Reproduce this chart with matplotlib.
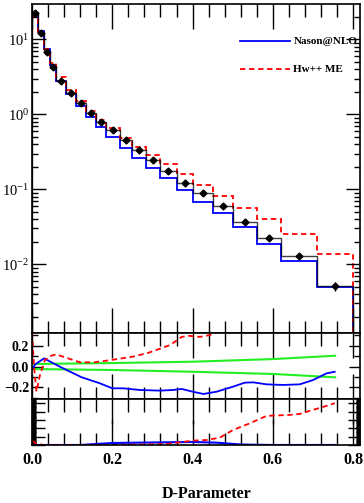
import numpy as np
import matplotlib
matplotlib.use('Agg')
import matplotlib.pyplot as plt
from matplotlib.ticker import MultipleLocator, LogLocator, NullFormatter, FixedLocator
from matplotlib.lines import Line2D

plt.rcParams['font.family'] = ['Liberation Serif', 'DejaVu Serif']
plt.rcParams['mathtext.fontset'] = 'custom'
plt.rcParams['mathtext.rm'] = 'Liberation Serif'
plt.rcParams['mathtext.it'] = 'Liberation Serif:italic'

# ---- data ----
edges = [0.0, 0.015, 0.03, 0.045, 0.06, 0.085, 0.11, 0.135, 0.16, 0.185, 0.22,
         0.25, 0.285, 0.32, 0.36, 0.40, 0.45, 0.50, 0.56, 0.62, 0.71, 0.80]
data = [22.6, 12.2, 6.8, 4.3, 2.75, 1.94, 1.43, 1.05, 0.80, 0.62, 0.45, 0.334,
        0.246, 0.177, 0.122, 0.090, 0.060, 0.037, 0.0222, 0.0129, 0.00514]
data_err = [2.0, 1.0, 0.5, 0.3, 0.2, 0.13, 0.09, 0.07, 0.05, 0.04, 0.03, 0.022,
            0.016, 0.012, 0.009, 0.007, 0.005, 0.003, 0.002, 0.0013, 0.0007]
nason = [22.1, 13.05, 7.48, 4.56, 2.78, 1.86, 1.31, 0.924, 0.68, 0.502, 0.36,
         0.264, 0.193, 0.140, 0.0964, 0.068, 0.048, 0.0318, 0.01865, 0.0109, 0.00493]
hwme = [20.3, 11.6, 7.34, 4.77, 3.11, 2.13, 1.51, 1.10, 0.84, 0.657, 0.486,
        0.371, 0.285, 0.214, 0.159, 0.114, 0.0814, 0.0569, 0.0402, 0.0254, 0.0137]
labels = ['Nason@NLO', 'Hw++ ME']

# (MC - data)/data ratio curves
rx_nason = [0.0, 0.008, 0.03, 0.061, 0.086, 0.124, 0.169, 0.2, 0.227, 0.269, 0.319,
            0.352, 0.373, 0.4, 0.427, 0.46, 0.501, 0.53, 0.551, 0.584, 0.626, 0.667,
            0.7, 0.734, 0.754]
r_nason = [-0.03, 0.02, 0.078, 0.015, -0.033, -0.103, -0.16, -0.208, -0.208, -0.224,
           -0.230, -0.224, -0.214, -0.240, -0.262, -0.240, -0.192, -0.154, -0.151,
           -0.170, -0.176, -0.170, -0.129, -0.065, -0.05]
rx_hw = [0.0, 0.005, 0.011, 0.02, 0.032, 0.045, 0.06, 0.09, 0.119, 0.155, 0.197,
         0.252, 0.289, 0.344, 0.373, 0.393, 0.418, 0.443, 0.456, 0.47]
r_hw = [0.33, 0.0, -0.24, -0.08, 0.06, 0.10, 0.116, 0.078, 0.04, 0.04, 0.062,
        0.095, 0.13, 0.205, 0.283, 0.293, 0.283, 0.30, 0.32, 0.36]
band_x = [0.0, 0.2, 0.4, 0.6, 0.755]
band_up = [0.024, 0.033, 0.046, 0.071, 0.103]
band_lo = [-0.024, -0.033, -0.05, -0.071, -0.103]

# bottom panel curves
cx_nason = [0.0, 0.12, 0.2, 0.3, 0.4, 0.46, 0.52, 0.6, 0.755]
c_nason = [0.0, 0.0, 0.24, 0.3, 0.36, 0.28, 0.06, 0.0, 0.0]
cx_hw = [0.0, 0.012, 0.03, 0.2, 0.335, 0.4, 0.435, 0.468, 0.501, 0.543, 0.584,
         0.642, 0.667, 0.7, 0.734, 0.754]
c_hw = [0.52, 0.12, 0.0, 0.0, 0.12, 0.52, 0.6, 0.88, 1.8, 2.6, 3.48, 3.6, 3.72,
        4.2, 4.68, 5.0]

BLUE = '#0000ff'
RED = '#ff0000'
GREEN = '#22ee22'
DASH = (0, (3, 2))

fig = plt.figure(figsize=(3.64, 5.03), dpi=100)
W, H = 364.0, 503.0
def box(x0, y0, x1, y1):
    return [x0 / W, 1 - y1 / H, (x1 - x0) / W, (y1 - y0) / H]

ax = fig.add_axes(box(32, 4, 360, 333))
axr = fig.add_axes(box(32, 333, 360, 399), sharex=ax)
axc = fig.add_axes(box(32, 399, 360, 445), sharex=ax)

centers = 0.5 * (np.array(edges[:-1]) + np.array(edges[1:]))
ax.set_yscale('log')
ax.stairs(nason, edges, baseline=1e-6, color=BLUE, lw=1.3)
ax.stairs(hwme, edges, baseline=1e-6, color=RED, lw=1.3, ls=DASH)
ax.stairs(data, edges, baseline=1e-6, color='black', lw=1.0, alpha=0.75)
ax.errorbar(centers, data, yerr=data_err, fmt='D', color='black', ms=3.5,
            elinewidth=1.0, capsize=0)
ax.set_xlim(0, 0.817)
ax.set_ylim(1.21e-3, 29.6)

# legend (drawn in axes coordinates)
leg_y = [0.8875, 0.802]
leg_styles = [dict(color=BLUE, lw=1.3), dict(color=RED, lw=1.3, ls=DASH)]
for yy, lab, st in zip(leg_y, labels, leg_styles):
    ax.add_line(Line2D([0.634, 0.787], [yy, yy], transform=ax.transAxes, **st))
    ax.text(0.797, yy, lab, transform=ax.transAxes, ha='left', va='center',
            fontsize=8, fontweight='bold')

axr.plot(band_x, band_up, color=GREEN, lw=1.5)
axr.plot(band_x, band_lo, color=GREEN, lw=1.5)
axr.plot(rx_nason, r_nason, color=BLUE, lw=1.3)
axr.plot(rx_hw, r_hw, color=RED, lw=1.3, ls=DASH)
axr.set_ylim(-0.31, 0.32)

axc.plot(cx_nason, c_nason, color=BLUE, lw=1.5)
axc.plot(cx_hw, c_hw, color=RED, lw=1.3, ls=DASH)
axc.set_ylim(0, 5.5)

for a in (ax, axr, axc):
    a.xaxis.set_major_locator(MultipleLocator(0.2))
    a.xaxis.set_minor_locator(MultipleLocator(0.04))
    a.tick_params(which='both', direction='in', top=True, right=True, width=1.0)
    a.tick_params(which='major', axis='x', length=18)
    a.tick_params(which='minor', axis='x', length=9)
    for s in a.spines.values():
        s.set_linewidth(1.2)

ax.yaxis.set_major_locator(LogLocator(base=10, numticks=10))
ax.yaxis.set_minor_locator(LogLocator(base=10, subs=np.arange(2, 10), numticks=20))
ax.yaxis.set_minor_formatter(NullFormatter())
ax.tick_params(which='major', axis='y', length=10, labelsize=10.5, pad=2)
ax.tick_params(which='minor', axis='y', length=4)
plt.setp(ax.get_xticklabels(), visible=False)

axr.yaxis.set_major_locator(FixedLocator([-0.2, 0.0, 0.2]))
axr.yaxis.set_minor_locator(MultipleLocator(0.1))
axr.tick_params(which='major', axis='y', length=8, labelsize=10, pad=2)
axr.tick_params(which='minor', axis='y', length=4)
axr.set_yticklabels(['\u22120.2', '0.0', '0.2'], fontweight='bold')
plt.setp(axr.get_xticklabels(), visible=False)

axc.yaxis.set_major_locator(MultipleLocator(1))
axc.yaxis.set_minor_locator(MultipleLocator(0.1))
axc.tick_params(which='major', axis='y', length=9, labelleft=False)
axc.tick_params(which='minor', axis='y', length=3)
axc.tick_params(axis='x', labelsize=11.5, pad=5)
for t in axc.get_xticklabels():
    t.set_fontweight('bold')
axc.xaxis.set_major_formatter(matplotlib.ticker.FormatStrFormatter('%.1f'))

fig.text(207 / W, 1 - 494 / H, 'D-Parameter', ha='center', va='center',
         fontsize=11.5, fontweight='bold')

fig.savefig('out.png', dpi=100)
